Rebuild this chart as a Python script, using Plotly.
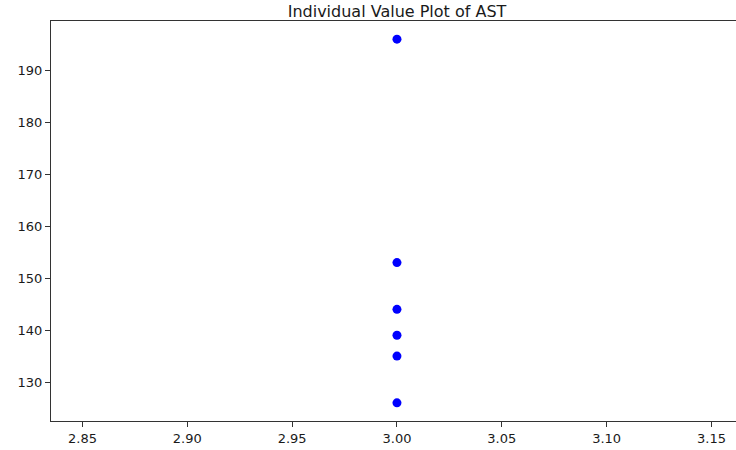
import plotly.graph_objects as go

group_x = [3, 3, 3, 3, 3, 3]
ast_values = [196, 153, 144, 139, 135, 126]
x_ticks = [2.85, 2.90, 2.95, 3.00, 3.05, 3.10, 3.15]
y_ticks = [130, 140, 150, 160, 170, 180, 190]

fig = go.Figure()
fig.add_trace(go.Scatter(
    x=group_x, y=ast_values, mode="markers",
    marker=dict(color="#0000ff", size=9, line=dict(width=0)),
    showlegend=False,
))

font = dict(family="DejaVu Sans", size=13, color="#1a1a1a")
fig.update_layout(
    width=736, height=450,
    margin=dict(l=51, r=0, t=21, b=29),
    paper_bgcolor="white", plot_bgcolor="white",
    font=font,
    title=dict(text="Individual Value Plot of AST", x=397 / 736, xref="container",
               xanchor="center", y=1 - 11 / 450, yref="container", yanchor="middle",
               font=dict(family="DejaVu Sans", size=16, color="#1a1a1a")),
)
fig.update_xaxes(
    range=[2.835, 3.1617], tickvals=x_ticks, ticktext=[f"{v:.2f}" for v in x_ticks],
    showgrid=False, zeroline=False, showline=True, linecolor="#333", linewidth=1,
    mirror=True, ticks="outside", ticklen=5, tickcolor="#333", tickfont=font,
)
fig.update_yaxes(
    range=[122.5, 199.5], tickvals=y_ticks,
    showgrid=False, zeroline=False, showline=True, linecolor="#333", linewidth=1,
    mirror=False, ticks="outside", ticklen=5, tickcolor="#333", tickfont=font,
)
fig.write_html("out.html")
